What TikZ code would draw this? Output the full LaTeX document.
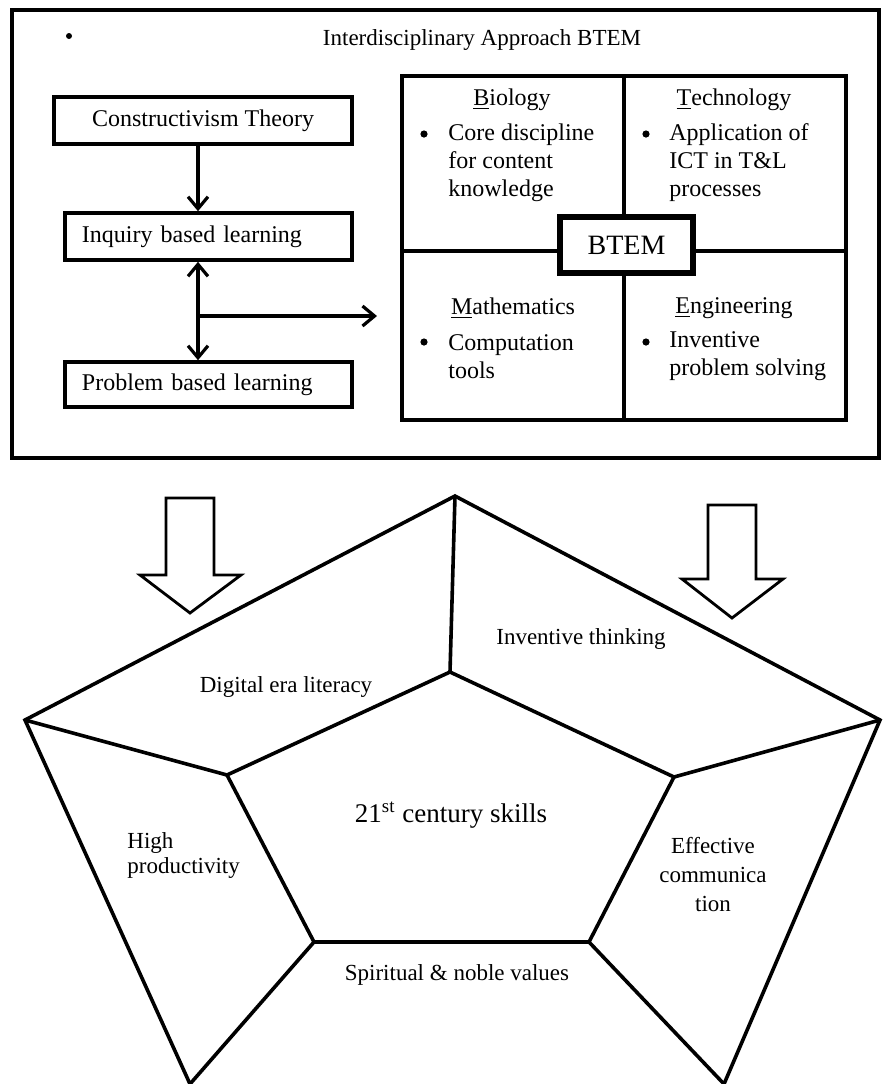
\documentclass[tikz,border=0pt]{standalone}
\usepackage{fontspec}
\setmainfont{Liberation Serif}
\usetikzlibrary{arrows.meta}

\tikzset{
    flowbox/.style={draw, line width=1.8pt, inner sep=0pt, minimum height=23.5pt,
        font=\fontsize{12}{14}\selectfont},
    flowarrow/.style={line width=1.6pt, -{Straight Barb[length=6pt,width=10pt]}},
    gridline/.style={line width=2.4pt},
    heading/.style={font=\fontsize{12}{14}\selectfont},
    itemtext/.style={anchor=west, align=left, inner sep=0pt, font=\fontsize{12}{14}\selectfont},
    dotmark/.style={circle, fill, inner sep=0pt, minimum size=3.6pt},
    penline/.style={line width=1.8pt, line join=miter},
    pentext/.style={font=\fontsize{11.5}{12.5}\selectfont},
    blockarrow/.style={line width=1.4pt}
}

\begin{document}
\begin{tikzpicture}[x=0.5pt, y=-0.5pt]
    \useasboundingbox (0,0) rectangle (883,1084);

    % Outer frame of the approach
    \draw[line width=1.8pt] (12,10) rectangle (879,458);
    \node[dotmark, minimum size=3pt] (dot) at (69,36) {};
    \node[pentext] (title) at (482,40) {Interdisciplinary Approach BTEM};

    % Learning theory boxes
    \node[flowbox, minimum width=149pt] (const) at (203,120.5) {Constructivism Theory};
    \node[flowbox, minimum width=143.5pt, text width=126.5pt, align=left] (inq) at (208.5,236.5) {Inquiry based learning};
    \node[flowbox, minimum width=143.5pt, minimum height=22.5pt, text width=126.5pt, align=left] (prob) at (208.5,384.5) {Problem based learning};

    % Arrows between the boxes
    \coordinate (spine) at (198,0);
    \coordinate (junction) at (198,316);
    \coordinate (gridin) at (377,316);
    \draw[flowarrow] (const.south -| spine) -- (inq.north -| spine);
    \draw[flowarrow, {Straight Barb[length=6pt,width=10pt]}-{Straight Barb[length=6pt,width=10pt]}] (inq.south -| spine) -- (prob.north -| spine);
    \draw[flowarrow] (junction) -- (gridin);

    % BTEM grid
    \draw[gridline] (402,76) rectangle (846,420);
    \draw[gridline] (624,76) -- (624,420);
    \draw[gridline] (402,251) -- (846,251);
    \node[draw, line width=3pt, fill=white, minimum width=66.5pt, minimum height=28pt,
        font=\fontsize{14}{16}\selectfont] (btem) at (626.5,245) {BTEM};

    % Biology
    \node[heading] (bio) at (512,100) {\underline{B}iology};
    \node[dotmark] (biodot) at (424,134) {};
    \node[itemtext] (biotext) at (448,163) {Core discipline\\for content\\knowledge};

    % Technology
    \node[heading] (tech) at (734,100) {\underline{T}echnology};
    \node[dotmark] (techdot) at (646,134) {};
    \node[itemtext] (techtext) at (669,163) {Application of\\ICT in T\&L\\processes};

    % Mathematics
    \node[heading] (math) at (513,308) {\underline{M}athematics};
    \node[dotmark] (mathdot) at (424,342) {};
    \node[itemtext] (mathtext) at (448,357) {Computation\\tools};

    % Engineering
    \node[heading] (eng) at (734,308) {\underline{E}ngineering};
    \node[dotmark] (engdot) at (646,342) {};
    \node[itemtext] (engtext) at (669,356.5) {Inventive\\problem solving};

    % Block arrows
    \draw[blockarrow] (166,498) -- (214,498) -- (214,575) -- (241,575) -- (190,613) -- (140,575) -- (166,575) -- cycle;
    \draw[blockarrow] (708,505) -- (756,505) -- (756,579) -- (783,579) -- (732,618) -- (682,579) -- (708,579) -- cycle;

    % Pentagon corners
    \coordinate (ptop) at (455,496);
    \coordinate (pleft) at (25,720);
    \coordinate (pright) at (880,720);
    \coordinate (pbl) at (190,1084);
    \coordinate (pbr) at (724,1084);
    \coordinate (itop) at (450,672);
    \coordinate (ileft) at (227,775);
    \coordinate (iright) at (674,777);
    \coordinate (ibl) at (314,942);
    \coordinate (ibr) at (589,942);

    % Outer and inner pentagon
    \draw[penline] (pbl) -- (pleft) -- (ptop) -- (pright) -- (pbr);
    \draw[penline] (ibl) -- (ileft) -- (itop) -- (iright) -- (ibr);
    \draw[line width=2.4pt] (ibl) -- (ibr);
    \draw[penline] (ptop) -- (itop);
    \draw[penline] (pleft) -- (ileft);
    \draw[penline] (pright) -- (iright);
    \draw[penline] (pbl) -- (ibl);
    \draw[penline] (pbr) -- (ibr);

    % Skill labels
    \node[font=\fontsize{13.5}{15}\selectfont] (skills) at (451,815) {21\textsuperscript{st} century skills};
    \node[pentext] (digital) at (286,687) {Digital era literacy};
    \node[pentext] (inventive) at (581,639) {Inventive thinking};
    \node[pentext, anchor=west, align=left, inner sep=0pt] (productivity) at (127,855.5) {High\\productivity};
    \node[font=\fontsize{11.5}{14.5}\selectfont, align=center] (communication) at (713,875) {Effective\\communica\\tion};
    \node[pentext] (values) at (457,975) {Spiritual \& noble values};

\end{tikzpicture}
\end{document}
